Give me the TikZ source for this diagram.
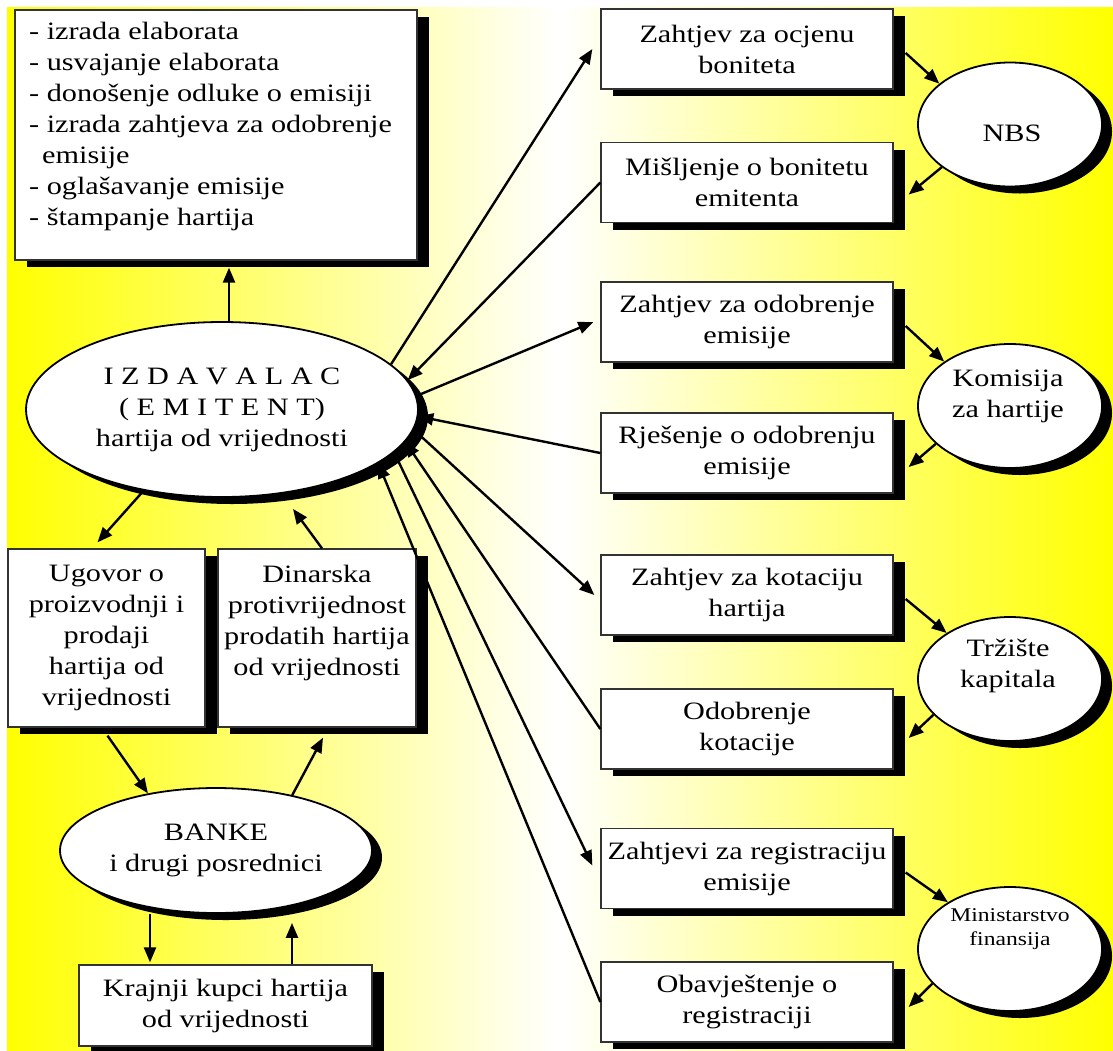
\documentclass[tikz,border=0pt]{standalone}
\usepackage{fontspec}
\setmainfont{Liberation Serif}[FakeStretch=1.21]
\usetikzlibrary{arrows.meta,shadows,shapes.geometric}
\newcommand\txtfont{\fontsize{25}{31}\selectfont}
\newcommand\smalltxt{\fontsize{19.5}{24.5}\selectfont}

\begin{document}
\begin{tikzpicture}[x=1pt,y=-1pt,
  card/.style={rectangle,draw=black!80,line width=1.3pt,fill=white,inner sep=0pt,
    minimum width=292pt,minimum height=80pt,align=center,font=\txtfont,
    drop shadow={shadow xshift=12pt,shadow yshift=-7pt,fill=black,opacity=1}},
  body/.style={ellipse,draw=black,line width=1.8pt,fill=white,inner sep=0pt,
    align=center,font=\txtfont,
    drop shadow={shadow xshift=10pt,shadow yshift=-7pt,fill=black,opacity=1}},
  agency/.style={body,minimum width=184pt,minimum height=124pt},
  caption/.style={inner sep=0pt,align=center,font=\txtfont},
  arr/.style={line width=2.4pt,-{Triangle[length=15pt,width=12pt]}},
]
% page and gradient backdrop
\fill[white] (0,0) rectangle (1113,1050);
\shade[left color=yellow,right color=yellow,middle color=white] (7,7) rectangle (1113,1050);
\useasboundingbox (0,0) rectangle (1113,1050);

% issuer side
\node[card,minimum width=402pt,minimum height=250pt] (tasks) at (216,135) {};
\node[anchor=north west,align=left,font=\txtfont,inner sep=0pt] (tasklist) at (29,21.5)
  {- izrada elaborata\\
   - usvajanje elaborata\\
   - donošenje odluke o emisiji\\
   - izrada zahtjeva za odobrenje\\
   \hspace*{13pt}emisije\\
   - oglašavanje emisije\\
   - štampanje hartija};

\node[body,minimum width=392pt,minimum height=175pt] (emit) at (222,409.5)
  {I Z D A V A L A C\\( E M I T E N T)\\hartija od vrijednosti};

\node[card,minimum width=197pt,minimum height=178pt] (ugovor) at (106.5,638)
  {Ugovor o\\proizvodnji i\\prodaji\\hartija od\\vrijednosti};
\node[card,minimum width=198pt,minimum height=178pt] (dinar) at (317,638)
  {Dinarska\\protivrijednost\\prodatih hartija\\od vrijednosti\\\vphantom{vrijednosti}};

\node[body,minimum width=312pt,minimum height=125pt] (banke) at (216,850.5)
  {BANKE\\i drugi posrednici};

\node[card,minimum width=293pt,minimum height=81pt] (krajnji) at (225.5,1005.5)
  {Krajnji kupci hartija\\od vrijednosti};

% documents exchanged with institutions
\node[card] (ocjena)    at (747,49)    {Zahtjev za ocjenu\\boniteta};
\node[card] (bonitet)   at (747,182.5) {Mišljenje o bonitetu\\emitenta};
\node[card] (odobrenje) at (747,322)   {Zahtjev za odobrenje\\emisije};
\node[card] (rjesenje)  at (747,453)   {Rješenje o odobrenju\\emisije};
\node[card] (kotacija)  at (747,595)   {Zahtjev za kotaciju\\hartija};
\node[card] (odobkot)   at (747,729)   {Odobrenje\\kotacije};
\node[card] (registr)   at (747,868.5) {Zahtjevi za registraciju\\emisije};
\node[card] (obavj)     at (747,1002)  {Obavještenje o\\registraciji};

% institutions
\node[agency] (nbs)          at (1010,124.5) {};
\node[agency] (komisija)     at (1010,406)   {};
\node[agency] (trziste)      at (1010,679)   {};
\node[agency] (ministarstvo) at (1010,949)   {};
\node[caption] (nbslbl) at (1012,133.5) {NBS};
\node[caption] (komlbl) at (1008,396)   {Komisija\\za hartije};
\node[caption] (trzlbl) at (1008,666)   {Tržište\\kapitala};
\node[caption,font=\smalltxt] (minlbl) at (1010,929) {Ministarstvo\\finansija};

% issuer and its own steps
\draw[arr] ([xshift=7pt]emit.north) -- ([xshift=13pt,yshift=-7pt]tasks.south);

% issuer and the documents
\draw[arr] (emit.15)  -- ([xshift=-8pt]ocjena.west);
\draw[arr] (bonitet.west) -- (emit.9);
\draw[arr] (emit.4)   -- ([xshift=-7pt]odobrenje.west);
\draw[arr] (rjesenje.west) -- (emit.-2);
\draw[arr] (emit.-6)  -- ([xshift=-6pt]kotacija.west);
\draw[arr] (odobkot.west) -- (emit.-10);
\draw[arr] (emit.-14) -- ([xshift=-8pt,yshift=3pt]registr.west);
\draw[arr] (obavj.west) -- (emit.-19);

% documents and institutions
\draw[arr] ([xshift=12pt,yshift=-4pt]ocjena.east) -- (nbs.150);
\draw[arr] (nbs.212) -- ([xshift=15pt,yshift=-12pt]bonitet.east);
\draw[arr] ([xshift=12pt,yshift=-4pt]odobrenje.east) -- (komisija.146);
\draw[arr] (komisija.207) -- ([xshift=15pt,yshift=-14pt]rjesenje.east);
\draw[arr] ([xshift=12pt,yshift=-4pt]kotacija.east) -- (trziste.144);
\draw[arr] (trziste.205) -- ([xshift=15pt,yshift=-9pt]odobkot.east);
\draw[arr] ([xshift=12pt,yshift=-4pt]registr.east) -- (ministarstvo.143);
\draw[arr] (ministarstvo.204) -- ([xshift=15pt,yshift=-5pt]obavj.east);

% issuer, banks and buyers
\draw[arr] (emit.226) -- ([xshift=-9pt,yshift=6pt]ugovor.north);
\draw[arr] ([xshift=5pt]dinar.north) -- ([xshift=71pt,yshift=-11pt]emit.south);
\draw[arr] ([xshift=1pt,yshift=-8pt]ugovor.south) -- (banke.140);
\draw[arr] (banke.36) -- ([xshift=6pt,yshift=-10pt]dinar.south);
\draw[arr] ([xshift=-66pt]banke.south) -- ([xshift=-75.5pt,yshift=2pt]krajnji.north);
\draw[arr] ([xshift=66.5pt]krajnji.north) -- ([xshift=76pt,yshift=-9pt]banke.south);
\end{tikzpicture}
\end{document}
